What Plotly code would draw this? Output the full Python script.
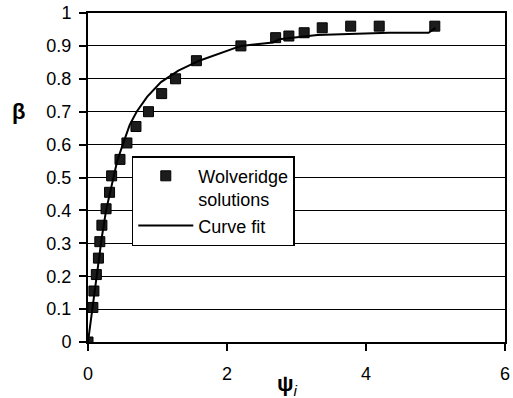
import plotly.graph_objects as go

# Wolveridge solutions (data points)
psi_pts = [0.0, 0.07, 0.085, 0.12, 0.15, 0.17, 0.2, 0.26, 0.31, 0.34, 0.46, 0.56, 0.69, 0.87,
           1.06, 1.26, 1.56, 2.2, 2.7, 2.89, 3.11, 3.37, 3.78, 4.19, 4.99]
beta_pts = [0.0, 0.105, 0.155, 0.205, 0.255, 0.305, 0.355, 0.405, 0.455, 0.505, 0.555, 0.605,
            0.655, 0.70, 0.755, 0.80, 0.855, 0.90, 0.925, 0.93, 0.94, 0.955, 0.96, 0.96, 0.96]

# Curve fit
psi_fit = [0.0, 0.05, 0.1, 0.15, 0.2, 0.26, 0.34, 0.42, 0.5, 0.6, 0.7, 0.85, 1.05, 1.3,
           1.6, 2.2, 2.66, 2.75, 3.3, 3.72, 4.15, 4.33, 4.9, 5.0]
beta_fit = [0.0, 0.08, 0.17, 0.25, 0.32, 0.40, 0.48, 0.55, 0.60, 0.66, 0.70, 0.745, 0.79, 0.825,
            0.855, 0.90, 0.91, 0.92, 0.933, 0.936, 0.94, 0.94, 0.94, 0.955]

x_ticks = [0, 2, 4, 6]
y_ticks = [0, 0.1, 0.2, 0.3, 0.4, 0.5, 0.6, 0.7, 0.8, 0.9, 1]
y_tick_text = ["0", "0.1", "0.2", "0.3", "0.4", "0.5", "0.6", "0.7", "0.8", "0.9", "1"]

fig = go.Figure()
fig.add_trace(go.Scatter(
    x=psi_pts, y=beta_pts, mode="markers", name="Wolveridge<br>solutions",
    marker=dict(symbol="square", size=10, color="#1c1c1c", line=dict(color="black", width=1)),
))
fig.add_trace(go.Scatter(
    x=psi_fit, y=beta_fit, mode="lines", name="Curve fit",
    line=dict(color="black", width=2),
))

font = "Liberation Sans, Arial, sans-serif"
fig.update_layout(
    width=513, height=398,
    margin=dict(l=88, r=3, t=13, b=56),
    paper_bgcolor="white", plot_bgcolor="white",
    font=dict(family=font, size=18, color="black"),
    showlegend=True,
    legend=dict(
        x=0.105, y=0.565, xanchor="left", yanchor="top",
        bgcolor="white", bordercolor="black", borderwidth=1.5,
        font=dict(family=font, size=18, color="black"),
        itemwidth=55, tracegroupgap=0, valign="top",
    ),
    xaxis=dict(
        range=[0, 6], tickvals=x_ticks, ticktext=[str(v) for v in x_ticks],
        showgrid=False, zeroline=False,
        showline=True, linecolor="black", linewidth=2, mirror=True,
        ticks="outside", ticklen=7, tickwidth=2, tickcolor="black",
        tickfont=dict(size=18), ticklabelstandoff=7, ticklabeloverflow="allow",
    ),
    yaxis=dict(
        range=[0, 1], tickvals=y_ticks, ticktext=y_tick_text,
        showgrid=True, gridcolor="black", gridwidth=1, zeroline=False,
        showline=True, linecolor="black", linewidth=2, mirror=True,
        ticks="outside", ticklen=7, tickwidth=2, tickcolor="black",
        tickfont=dict(size=18), ticklabelstandoff=4,
    ),
    annotations=[
        dict(text="<b>β</b>", xref="paper", yref="paper", x=-0.166, y=0.70,
             xanchor="center", yanchor="middle",
             showarrow=False, font=dict(size=22, family=font)),
        dict(text="<b>ψ</b><i><sub>i</sub></i>", xref="paper", yref="paper", x=0.479, y=-0.131,
             xanchor="center", yanchor="middle",
             showarrow=False, font=dict(size=22, family=font)),
    ],
)

fig.write_html("out.html", config={"displayModeBar": False},
               post_script="document.body.style.margin='0';")
